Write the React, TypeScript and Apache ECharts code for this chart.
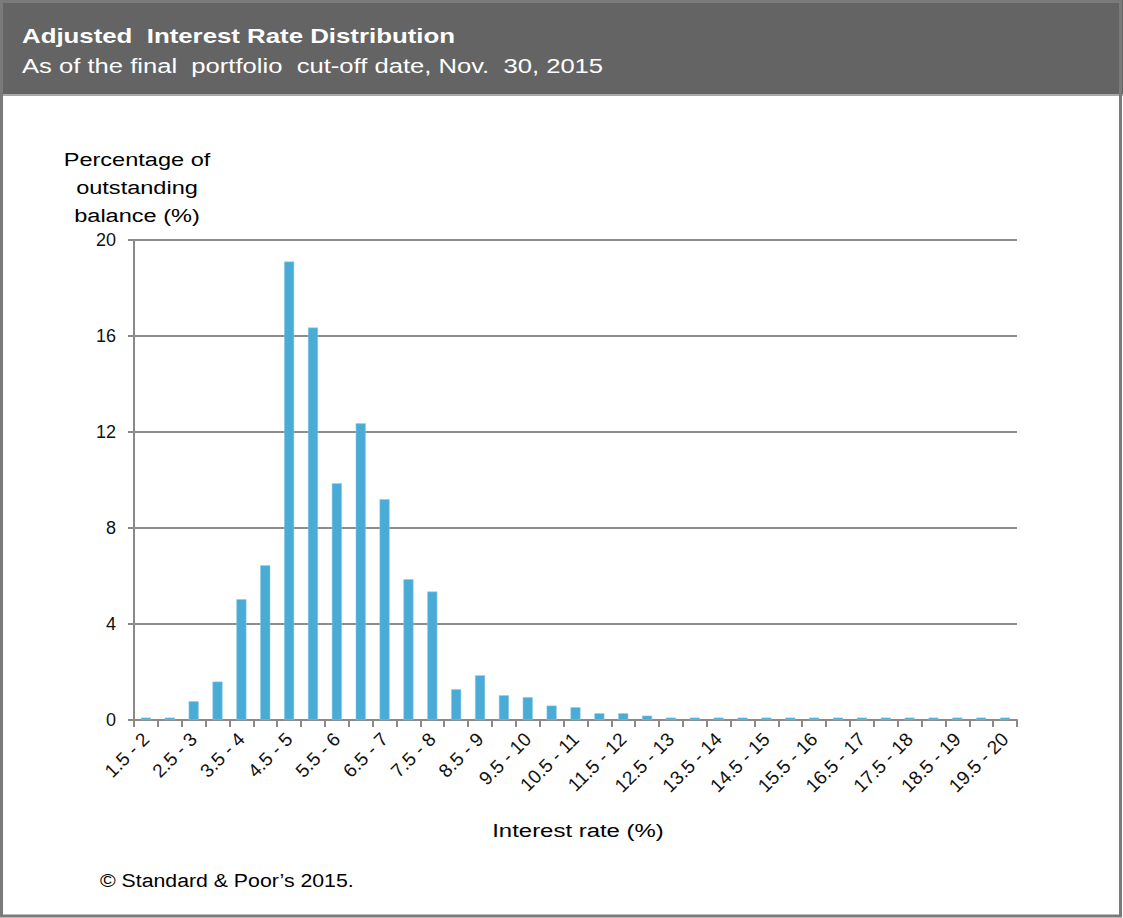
import React, { useEffect, useRef } from 'react';
import * as echarts from 'echarts';

const categories = [
  '1.5 - 2', '2 - 2.5', '2.5 - 3', '3 - 3.5', '3.5 - 4', '4 - 4.5', '4.5 - 5', '5 - 5.5',
  '5.5 - 6', '6 - 6.5', '6.5 - 7', '7 - 7.5', '7.5 - 8', '8 - 8.5', '8.5 - 9', '9 - 9.5',
  '9.5 - 10', '10 - 10.5', '10.5 - 11', '11 - 11.5', '11.5 - 12', '12 - 12.5', '12.5 - 13',
  '13 - 13.5', '13.5 - 14', '14 - 14.5', '14.5 - 15', '15 - 15.5', '15.5 - 16', '16 - 16.5',
  '16.5 - 17', '17 - 17.5', '17.5 - 18', '18 - 18.5', '18.5 - 19', '19 - 19.5', '19.5 - 20',
];

const balanceShare = [
  0.1, 0.1, 0.78, 1.6, 5.03, 6.45, 19.1, 16.35,
  9.86, 12.36, 9.2, 5.86, 5.35, 1.28, 1.86, 1.03,
  0.95, 0.6, 0.53, 0.28, 0.28, 0.18, 0.1,
  0.1, 0.1, 0.1, 0.1, 0.1, 0.1, 0.1,
  0.1, 0.1, 0.1, 0.1, 0.1, 0.1, 0.1,
];

const yTicks = { min: 0, max: 20, interval: 4 };

const titleText = 'Adjusted  Interest Rate Distribution';
const subtitleText = 'As of the final  portfolio  cut-off date, Nov.  30, 2015';
const yAxisTitle = 'Percentage of\noutstanding\nbalance (%)';
const xAxisTitle = 'Interest rate (%)';
const sourceText = '\u00A9 Standard & Poor\u2019s 2015.';

const FONT = '"Liberation Sans", Arial, Helvetica, sans-serif';

export default function App() {
  const ref = useRef<HTMLDivElement>(null);

  useEffect(() => {
    document.body.style.margin = '0';
    const chart = echarts.init(ref.current!, null, { renderer: 'svg' });
    const txt = (
      text: string, x: number, y: number, size: number, opts: any = {}
    ) => ({
      type: 'text',
      x,
      y,
      scaleX: opts.scaleX ?? 1,
      z: 10,
      style: {
        text,
        x: 0,
        y: 0,
        fill: opts.fill ?? '#000',
        fontSize: size,
        fontWeight: opts.bold ? 'bold' : 'normal',
        fontFamily: FONT,
        lineHeight: opts.lineHeight,
        align: opts.align ?? 'left',
        textAlign: opts.align ?? 'left',
        verticalAlign: 'middle',
        textVerticalAlign: 'middle',
      },
    });

    chart.setOption({
      animation: false,
      backgroundColor: '#ffffff',
      textStyle: { fontFamily: FONT },
      graphic: [
        {
          type: 'rect',
          z: 1,
          shape: { x: 0, y: 0, width: 1123, height: 94 },
          style: { fill: '#646464' },
        },
        {
          type: 'line',
          z: 1,
          shape: { x1: 0, y1: 95, x2: 1123, y2: 95 },
          style: { stroke: '#a8a8a8', lineWidth: 2 },
        },
        {
          type: 'rect',
          z: 1,
          shape: { x: 1.5, y: 1.5, width: 1119, height: 914.5 },
          style: { fill: 'transparent', stroke: '#7a7a7a', lineWidth: 3 },
        },
        txt(titleText, 22, 36, 21, { bold: true, fill: '#ffffff', scaleX: 1.23 }),
        txt(subtitleText, 22, 66, 21, { fill: '#ffffff', scaleX: 1.22 }),
        txt(yAxisTitle, 137, 188, 19, { align: 'center', lineHeight: 28, scaleX: 1.24 }),
        txt(xAxisTitle, 578, 830, 19, { align: 'center', scaleX: 1.26 }),
        txt(sourceText, 100, 880, 19, { scaleX: 1.12 }),
      ],
      grid: { left: 134, right: 106, top: 240, bottom: 198, containLabel: false },
      xAxis: {
        type: 'category',
        data: categories,
        boundaryGap: true,
        axisLine: { show: true, lineStyle: { color: '#8a8a8a', width: 2 } },
        axisTick: { show: true, interval: 0, length: 7, lineStyle: { color: '#8a8a8a', width: 2 } },
        axisLabel: {
          interval: 1,
          rotate: 45,
          margin: 16,
          color: '#111',
          fontSize: 19,
          fontFamily: FONT,
        },
        splitLine: { show: false },
      },
      yAxis: {
        type: 'value',
        min: yTicks.min,
        max: yTicks.max,
        interval: yTicks.interval,
        axisLine: { show: true, lineStyle: { color: '#8a8a8a', width: 2 } },
        axisTick: { show: true, length: 6, lineStyle: { color: '#8a8a8a', width: 2 } },
        axisLabel: { margin: 18, color: '#111', fontSize: 18, fontFamily: FONT },
        splitLine: { show: true, lineStyle: { color: '#8c8c8c', width: 2 } },
      },
      series: [
        {
          type: 'bar',
          data: balanceShare,
          barWidth: 10,
          itemStyle: { color: '#4aacd6', borderColor: '#8ccbe6', borderWidth: 0.5 },
        },
      ],
    });
    return () => chart.dispose();
  }, []);

  return <div ref={ref} style={{ width: 1123, height: 918 }} />;
}
